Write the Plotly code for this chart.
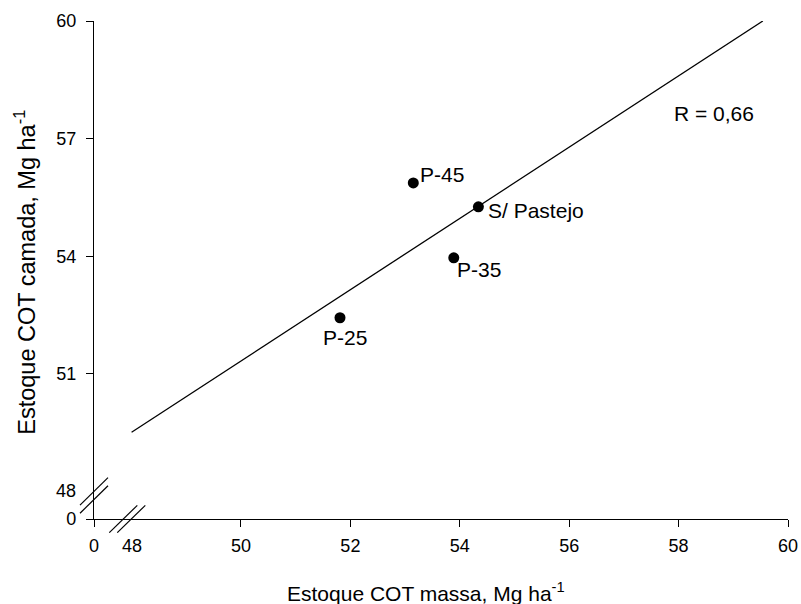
import plotly.graph_objects as go

# ---- data ----
labels = ["P-45", "S/ Pastejo", "P-35", "P-25"]
cot_massa = [53.15, 54.34, 53.89, 51.81]     # x, Mg ha-1
cot_camada = [55.87, 55.26, 53.96, 52.43]    # y, Mg ha-1
fit_x = [48.0, 59.54]
fit_y = [49.51, 60.0]
r_text = "R = 0,66"

x_tick_vals = [50, 52, 54, 56, 58, 60]
y_tick_vals = [51, 54, 57, 60]
break_tick = 48

# broken-axis origins (the "0" position on each axis)
X0 = 47.313
Y0 = 47.296

FONT = "Arial, Liberation Sans, Helvetica, sans-serif"
BLACK = "#000000"
TICKFONT = dict(size=18, color=BLACK, family=FONT)
LABELFONT = dict(size=21, color=BLACK, family=FONT)

fig = go.Figure()

fig.add_trace(go.Scatter(
    x=fit_x, y=fit_y, mode="lines",
    line=dict(color=BLACK, width=1.3),
    hoverinfo="skip", showlegend=False,
))
fig.add_trace(go.Scatter(
    x=cot_massa, y=cot_camada, mode="markers",
    marker=dict(color=BLACK, size=11),
    showlegend=False,
))

# point labels (offsets in pixels, style only)
label_style = {
    "P-45": dict(xanchor="left", xshift=5, yshift=8.4),
    "S/ Pastejo": dict(xanchor="left", xshift=8, yshift=-3.9),
    "P-35": dict(xanchor="left", xshift=1, yshift=-11.5),
    "P-25": dict(xanchor="center", xshift=5.3, yshift=-20.2),
}
for lab, xv, yv in zip(labels, cot_massa, cot_camada):
    fig.add_annotation(x=xv, y=yv, text=lab, showarrow=False,
                       yanchor="middle", font=LABELFONT, **label_style[lab])

fig.add_annotation(x=0.894, y=0.8145, xref="paper", yref="paper", text=r_text,
                   showarrow=False, xanchor="center", yanchor="middle",
                   font=LABELFONT)

# "48" labels at the axis breaks
fig.add_annotation(x=break_tick, y=0, xref="x", yref="paper", text=str(break_tick),
                   showarrow=False, xanchor="center", yanchor="middle", yshift=-27,
                   font=TICKFONT)
fig.add_annotation(x=0, y=break_tick, xref="paper", yref="y", text=str(break_tick),
                   showarrow=False, xanchor="right", yanchor="middle", xshift=-16.5,
                   font=TICKFONT)

# axis titles
fig.add_annotation(x=0.478, y=-0.1466, xref="paper", yref="paper",
                   text="Estoque COT massa, Mg ha<sup>-1</sup>", showarrow=False,
                   xanchor="center", yanchor="middle",
                   font=dict(size=21, color=BLACK, family=FONT))
fig.add_annotation(x=-0.099, y=0.495, xref="paper", yref="paper",
                   text="Estoque COT camada, Mg ha<sup>-1</sup>", showarrow=False,
                   textangle=-90, xanchor="center", yanchor="middle",
                   font=dict(size=23.5, color=BLACK, family=FONT))

# break marks (double slashes)
brk = dict(type="line", line=dict(color=BLACK, width=1.2), xref="paper", yref="paper",
           xsizemode="pixel", ysizemode="pixel")
# on y axis
fig.add_shape(xanchor=0, yanchor=0.0472, x0=-14, y0=-9.6, x1=14, y1=17.9, **brk)
fig.add_shape(xanchor=0, yanchor=0.0472, x0=-14, y0=-17.75, x1=14, y1=9.75, **brk)
# on x axis
fig.add_shape(xanchor=0.048, yanchor=0, x0=-18, y0=-13.65, x1=10, y1=13.65, **brk)
fig.add_shape(xanchor=0.048, yanchor=0, x0=-10, y0=-13.65, x1=18, y1=13.65, **brk)

axis_common = dict(showgrid=False, zeroline=False, ticks="outside", ticklen=7,
                   tickwidth=1.2, tickcolor=BLACK, automargin=False,
                   showline=True, linecolor=BLACK, linewidth=1.2,
                   tickfont=TICKFONT)

fig.update_layout(
    width=801, height=604,
    margin=dict(l=94, r=13, t=21, b=85, autoexpand=False),
    paper_bgcolor="white", plot_bgcolor="white",
    xaxis=dict(range=[X0, 60], tickvals=[X0] + x_tick_vals,
               ticktext=["0"] + [str(v) for v in x_tick_vals],
               ticklabelstandoff=3, **axis_common),
    yaxis=dict(range=[Y0, 60], tickvals=[Y0] + y_tick_vals,
               ticktext=["0"] + [str(v) for v in y_tick_vals],
               ticklabelstandoff=6, **axis_common),
)

fig.write_html(
    "out.html",
    config={"displayModeBar": False},
    post_script="document.body.style.margin='0';document.body.style.overflow='hidden';",
)
